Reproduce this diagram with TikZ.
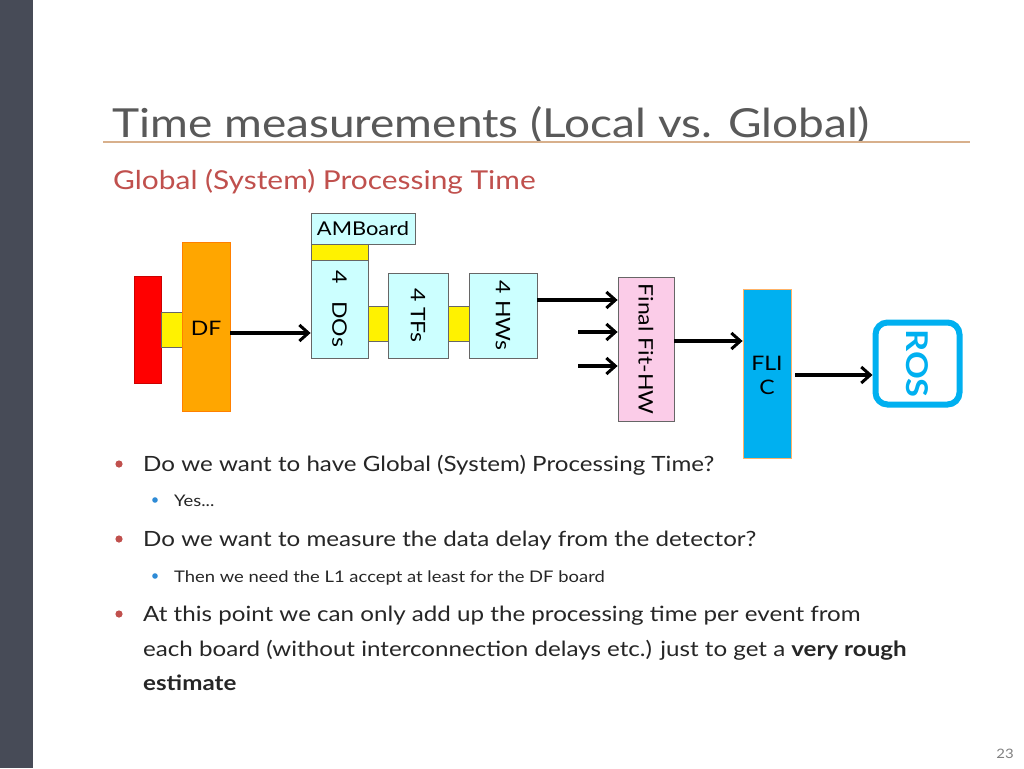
\documentclass[tikz,border=0pt]{standalone}
\usepackage{fontspec}
\setmainfont[FakeStretch=1.15]{Lato}
\usetikzlibrary{arrows.meta}
\definecolor{bar}{HTML}{474B57}
\definecolor{titleg}{HTML}{595959}
\definecolor{rule}{HTML}{D8B08C}
\definecolor{sub}{HTML}{C0504D}
\definecolor{cyanl}{HTML}{CCFFFF}
\definecolor{flic}{HTML}{00B0F0}
\definecolor{bluedot}{HTML}{2E8BD6}
\tikzset{
  box/.style={draw=black!60, line width=0.8pt, inner sep=0pt},
  conn/.style={-{Straight Barb[length=9pt,width=16pt,line width=3pt]}, line width=3.5pt, black},
  rot/.style={rotate=-90, font=\fontsize{20}{22}\selectfont},
}
\begin{document}
\begin{tikzpicture}[x=1pt,y=-1pt]
\useasboundingbox (0,0) rectangle (1024,768);
\fill[white] (0,0) rectangle (1024,768);
\fill[bar] (0,0) rectangle (33,768);
\node[anchor=base west, inner sep=0, text=titleg, font=\fontsize{40}{44}\selectfont] (title) at (112,137) {Time measurements (Local vs. Global)};
\draw[rule, line width=1.2pt] (103,142) -- (970,142);
\node[anchor=base west, inner sep=0, text=sub, font=\fontsize{26}{30}\selectfont] (subt) at (113,189) {Global (System) Processing Time};
% boxes
\node[box, fill=red, draw=red!80!black, minimum width=27pt, minimum height=107pt] (red) at (147.5,329.5) {};
\node[box, fill=yellow, minimum width=22pt, minimum height=35pt] (y1) at (172,329.5) {};
\node[box, fill=orange!70!yellow, draw=orange, minimum width=48pt, minimum height=169pt] (df) at (206,326.5) {};
\node[font=\fontsize{20}{22}\selectfont] (dft) at (206,328) {DF};
\node[box, fill=cyanl, minimum width=104pt, minimum height=31pt, font=\fontsize{19}{22}\selectfont] (amb) at (363,228.5) {AMBoard};
\node[box, fill=yellow, minimum width=57pt, minimum height=16pt] (y0) at (339.5,252) {};
\node[box, fill=cyanl, minimum width=57pt, minimum height=98pt] (dos) at (339.5,309) {};
\node[rot] at (339.5,309) {4\;\; DOs};
\node[box, fill=yellow, minimum width=20pt, minimum height=35pt] (y2) at (378,323.5) {};
\node[box, fill=cyanl, minimum width=60pt, minimum height=85pt] (tfs) at (418,315.5) {};
\node[rot] at (418,315.5) {4 TFs};
\node[box, fill=yellow, minimum width=21pt, minimum height=35pt] (y3) at (458.5,323.5) {};
\node[box, fill=cyanl, minimum width=68pt, minimum height=85pt] (hws) at (503,315.5) {};
\node[rot] at (503,315.5) {4 HWs};
\node[box, fill=magenta!20, minimum width=56pt, minimum height=144pt] (ff) at (646,349) {};
\node[rot] at (646,349) {Final Fit-HW};
\node[box, fill=flic, draw=orange!60, minimum width=48pt, minimum height=169pt] (fl) at (767,373.5) {};
\node[font=\fontsize{20}{24}\selectfont, align=center] at (767,375) {FLI\\C};
\node[draw=flic, line width=6pt, rounded corners=12pt, minimum width=84pt, minimum height=82pt] (ros) at (917.5,363.5) {};
\node[rotate=-90, text=flic, font=\bfseries\fontsize{30}{32}\selectfont] at (917.5,363.5) {ROS};
% connectors
\coordinate (a1) at (578,332);
\coordinate (a2) at (578,366);
\draw[conn] (df.east|-0,333) -- (dos.west|-0,333);
\draw[conn] (hws.east|-0,300) -- (ff.west|-0,300);
\draw[conn] (a1) -- (ff.west|-a1);
\draw[conn] (a2) -- (ff.west|-a2);
\draw[conn] (ff.east|-0,341) -- (fl.west|-0,341);
\draw[conn] (795,375) -- (ros.west|-0,375);
% bullets
\tikzset{b1/.style={anchor=base west, inner sep=0, font=\fontsize{21}{34}\selectfont, text=black!85},
 b2/.style={anchor=base west, inner sep=0, font=\fontsize{16}{20}\selectfont, text=black!85}}
\foreach \y in {464,539,614} \fill[sub] (119,\y) circle (3.6);
\foreach \y in {500,576} \fill[bluedot] (155,\y) circle (2.8);
\node[b1] at (143,471) {Do we want to have Global (System) Processing Time?};
\node[b2] at (174,506) {Yes...};
\node[b1] at (143,546) {Do we want to measure the data delay from the detector?};
\node[b2] at (174,582) {Then we need the L1 accept at least for the DF board};
\node[b1] at (143,621) {At this point we can only add up the processing time per event from};
\node[b1] at (143,656) {each board (without interconnection delays etc.) just to get a \textbf{very rough}};
\node[b1] at (143,690) {\textbf{estimate}};
\node[anchor=base east, inner sep=0, text=black!50, font=\fontsize{13}{15}\selectfont] at (1014,758) {23};
\end{tikzpicture}
\end{document}
